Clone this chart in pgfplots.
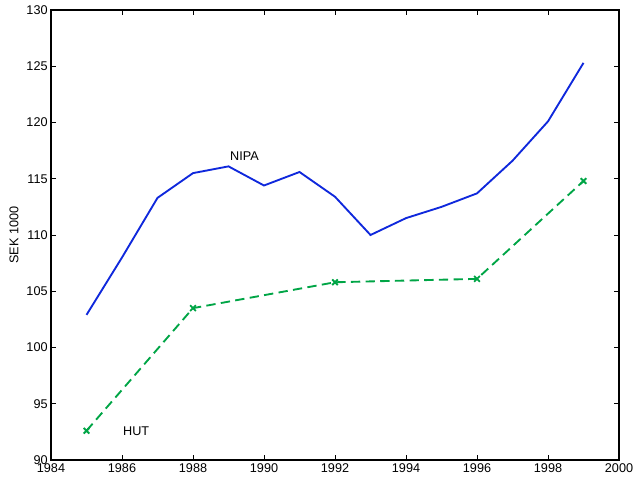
\documentclass[border=0pt]{standalone}
\usepackage{fontspec}
\setmainfont{Liberation Sans}
\usepackage{pgfplots}
\pgfplotsset{compat=1.18}

\definecolor{nipablue}{RGB}{15,40,220}
\definecolor{hutgreen}{RGB}{0,165,70}

\begin{document}
\begin{tikzpicture}
\begin{axis}[
    scale only axis,
    width=426pt, height=337.5pt,
    xmin=1984, xmax=2000,
    ymin=90, ymax=130,
    xtick={1984,1986,...,2000},
    ytick={90,95,...,130},
    tick align=inside,
    major tick length=4pt,
    tick style={black, line width=0.5pt},
    axis line style={black, line width=0.8pt},
    font=\fontsize{9.5}{11}\selectfont,
    /pgf/number format/assume math mode=true,
    /pgf/number format/1000 sep={},
    ylabel={SEK 1000},
    ylabel style={at={(axis description cs:-0.065,0.5)}, anchor=center},
    xticklabel style={yshift=1pt},
    yticklabel style={xshift=1pt},
    clip=false,
]
% NIPA
\addplot[nipablue, line width=1.4pt] coordinates {
    (1985,102.9) (1986,108.0) (1987,113.3) (1988,115.5) (1989,116.1)
    (1990,114.4) (1991,115.6) (1992,113.4) (1993,110.0) (1994,111.5)
    (1995,112.5) (1996,113.7) (1997,116.6) (1998,120.1) (1999,125.3)
};
% HUT
\addplot[hutgreen, line width=1.4pt, dash pattern=on 7pt off 4pt,
    mark=x, mark size=3pt, mark options={solid}] coordinates {
    (1985,92.6) (1988,103.5) (1992,105.8) (1996,106.1) (1999,114.8)
};
\node[anchor=center, font=\fontsize{9.5}{11}\selectfont] at (axis cs:1989.45,117.0) {NIPA};
\node[anchor=center, font=\fontsize{9.5}{11}\selectfont] at (axis cs:1986.4,92.6) {HUT};
\end{axis}
\pgfresetboundingbox
\path ([xshift=-38.25pt,yshift=-12.75pt]current axis.south west)
    rectangle ([xshift=10.5pt,yshift=7.5pt]current axis.north east);
\end{tikzpicture}
\end{document}
